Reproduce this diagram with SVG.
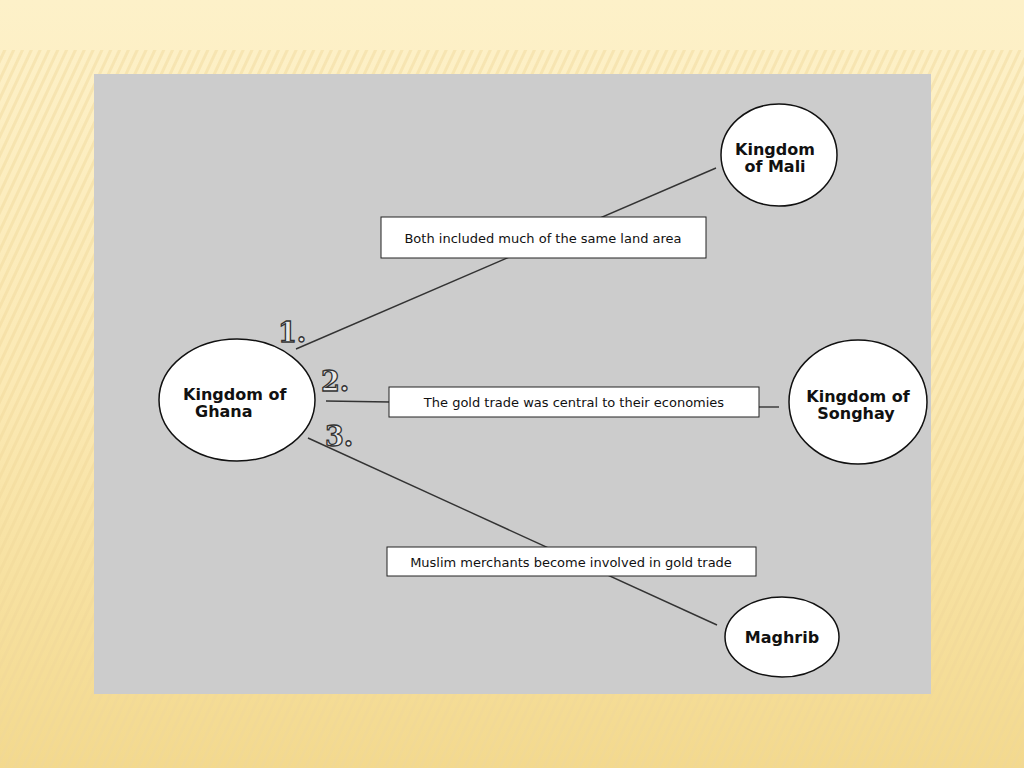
<svg xmlns="http://www.w3.org/2000/svg" width="1024" height="768" viewBox="0 0 1024 768">
<defs>
<linearGradient id="bg" x1="0" y1="0" x2="0" y2="1">
<stop offset="0" stop-color="#fdf1c9"/><stop offset="0.5" stop-color="#fbe9b4"/><stop offset="1" stop-color="#f3d98e"/>
</linearGradient>
<pattern id="st" width="8" height="8" patternUnits="userSpaceOnUse" patternTransform="rotate(25)">
<rect width="8" height="8" fill="none"/><rect width="3" height="8" fill="#efd79a" opacity="0.45"/>
</pattern>
</defs>
<style>
.node ellipse{fill:#fff;stroke:#111;stroke-width:1.5}
.nt{font-family:"DejaVu Sans",sans-serif;font-weight:bold;font-size:16px;fill:#111}
.box{fill:#fff;stroke:#222;stroke-width:1}
.bt{font-family:"DejaVu Sans",sans-serif;font-size:13px;fill:#111}
.num{font-family:"DejaVu Serif",serif;font-weight:bold;font-size:27px;fill:#e8e8e8;stroke:#333;stroke-width:1.3}
#connectors line{stroke:#333;stroke-width:1.4}
</style>
<rect width="1024" height="768" fill="url(#bg)"/>
<rect y="50" width="1024" height="718" fill="url(#st)"/>
<rect x="94" y="74" width="837" height="620" fill="#cccccc"/>
<g id="connectors">
<line x1="296" y1="349" x2="716" y2="168"/>
<line x1="326" y1="401" x2="390" y2="402"/>
<line x1="759" y1="407" x2="779" y2="407"/>
<line x1="308" y1="438" x2="717" y2="625"/>
</g>
<g id="label1"><rect class="box" x="381" y="217" width="325" height="41"/><text class="bt" x="543" y="243" text-anchor="middle">Both included much of the same land area</text></g>
<g id="label2"><rect class="box" x="389" y="387" width="370" height="30"/><text class="bt" x="574" y="407" text-anchor="middle">The gold trade was central to their economies</text></g>
<g id="label3"><rect class="box" x="387" y="547" width="369" height="29"/><text class="bt" x="571" y="567" text-anchor="middle">Muslim merchants become involved in gold trade</text></g>
<g id="ghana" class="node"><ellipse cx="237" cy="400" rx="78" ry="61"/><text class="nt" x="183" y="400">Kingdom of</text><text class="nt" x="195" y="417">Ghana</text></g>
<g id="mali" class="node"><ellipse cx="779" cy="155" rx="58" ry="51"/><text class="nt" x="775" y="155" text-anchor="middle">Kingdom</text><text class="nt" x="775" y="172" text-anchor="middle">of Mali</text></g>
<g id="songhay" class="node"><ellipse cx="858" cy="402" rx="69" ry="62"/><text class="nt" x="858" y="402" text-anchor="middle">Kingdom of</text><text class="nt" x="856" y="419" text-anchor="middle">Songhay</text></g>
<g id="maghrib" class="node"><ellipse cx="782" cy="637" rx="57" ry="40"/><text class="nt" x="782" y="643" text-anchor="middle">Maghrib</text></g>
<text class="num" x="278" y="342">1.</text>
<text class="num" x="321" y="391">2.</text>
<text class="num" x="325" y="446">3.</text>
</svg>
